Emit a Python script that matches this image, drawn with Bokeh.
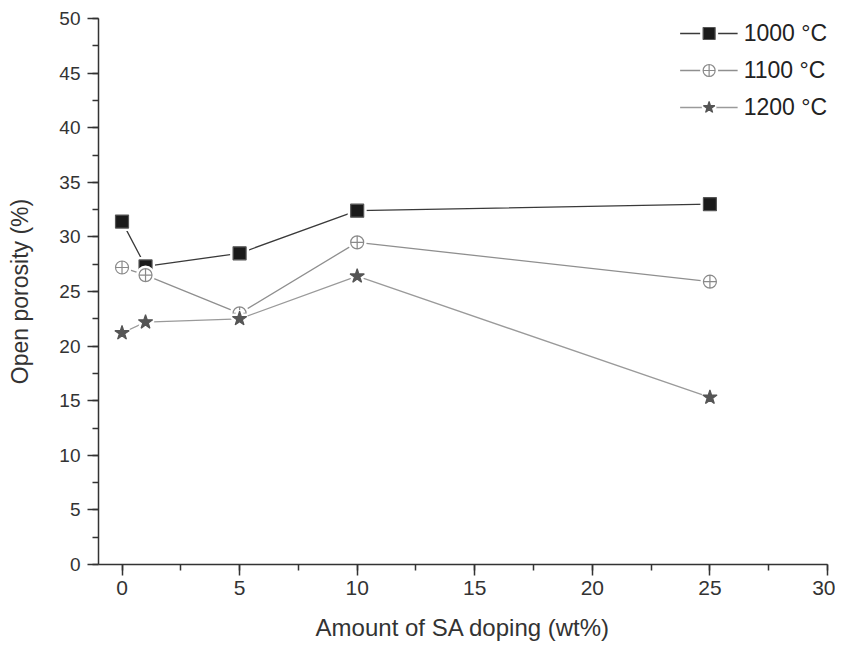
from bokeh.plotting import figure
from bokeh.models import Legend, LegendItem, SingleIntervalTicker
from bokeh.embed import file_html
from bokeh.resources import INLINE

# Data
sa_doping = [0, 1, 5, 10, 25]
por_1000 = [31.4, 27.3, 28.5, 32.4, 33.0]
por_1100 = [27.2, 26.5, 23.0, 29.5, 25.9]
por_1200 = [21.2, 22.2, 22.5, 26.4, 15.3]
labels = ["1000 °C", "1100 °C", "1200 °C"]

FONT = "'Liberation Sans', Arial, sans-serif"
NARROW = "'Liberation Sans Narrow', 'Liberation Sans', Arial, sans-serif"

p = figure(width=835, height=645, output_backend="svg", toolbar_location=None,
           x_range=(-1, 30), y_range=(0, 50),
           min_border_left=98, min_border_right=8, min_border_top=18, min_border_bottom=81)
p.outline_line_color = None
p.xgrid.visible = False
p.ygrid.visible = False
p.background_fill_color = "white"

for ax in (p.xaxis[0], p.yaxis[0]):
    ax.axis_line_color = "#333333"
    ax.axis_line_width = 1.5
    ax.major_tick_line_color = "#333333"
    ax.minor_tick_line_color = "#333333"
    ax.major_tick_line_width = 1.5
    ax.minor_tick_line_width = 1.5
    ax.major_tick_in = 0
    ax.minor_tick_in = 0
    ax.major_tick_out = 11
    ax.minor_tick_out = 6
    ax.major_label_text_color = "#333333"
    ax.axis_label_text_color = "#333333"
    ax.axis_label_text_font_style = "normal"

p.xaxis.ticker = SingleIntervalTicker(interval=5, num_minor_ticks=2)
p.yaxis.ticker = SingleIntervalTicker(interval=5, num_minor_ticks=2)

p.xaxis.axis_label = "Amount of SA doping (wt%)"
p.xaxis.axis_label_text_font = FONT
p.xaxis.axis_label_text_font_size = "24px"
p.xaxis.axis_label_standoff = 16
p.xaxis.major_label_text_font = NARROW
p.xaxis.major_label_text_font_size = "21px"
p.xaxis.major_label_standoff = 5

p.yaxis.axis_label = "Open porosity (%)"
p.yaxis.axis_label_text_font = FONT
p.yaxis.axis_label_text_font_size = "23px"
p.yaxis.axis_label_standoff = 23
p.yaxis.major_label_text_font = FONT
p.yaxis.major_label_text_font_size = "19px"
p.yaxis.major_label_standoff = 7

series = [
    (por_1000, "square", "#3a3a3a", "#1a1a1a", "#555555", 13),
    (por_1100, "circle_cross", "#8f8f8f", "white", "#8a8a8a", 13),
    (por_1200, "star", "#9a9a9a", "#555555", "#555555", 15),
]

items = []
for (vals, marker, lcol, fcol, mline, size), lab in zip(series, labels):
    ln = p.line(sa_doping, vals, line_color=lcol, line_width=1.3)
    halo = p.scatter(sa_doping, vals, marker=marker, size=size, fill_color="white",
                     line_color="white", line_width=6)
    mk = p.scatter(sa_doping, vals, marker=marker, size=size, fill_color=fcol,
                   line_color=mline, line_width=1.2)
    items.append(LegendItem(label=lab, renderers=[ln, halo, mk]))

legend = Legend(items=items, location="top_right", margin=0, padding=3,
                border_line_color=None, background_fill_alpha=0,
                glyph_width=58, glyph_height=30, spacing=7, label_standoff=6,
                label_text_font=FONT, label_text_font_size="23px",
                label_text_color="#222222")
p.add_layout(legend, "center")

open("out.html", "w").write(file_html(p, INLINE))
